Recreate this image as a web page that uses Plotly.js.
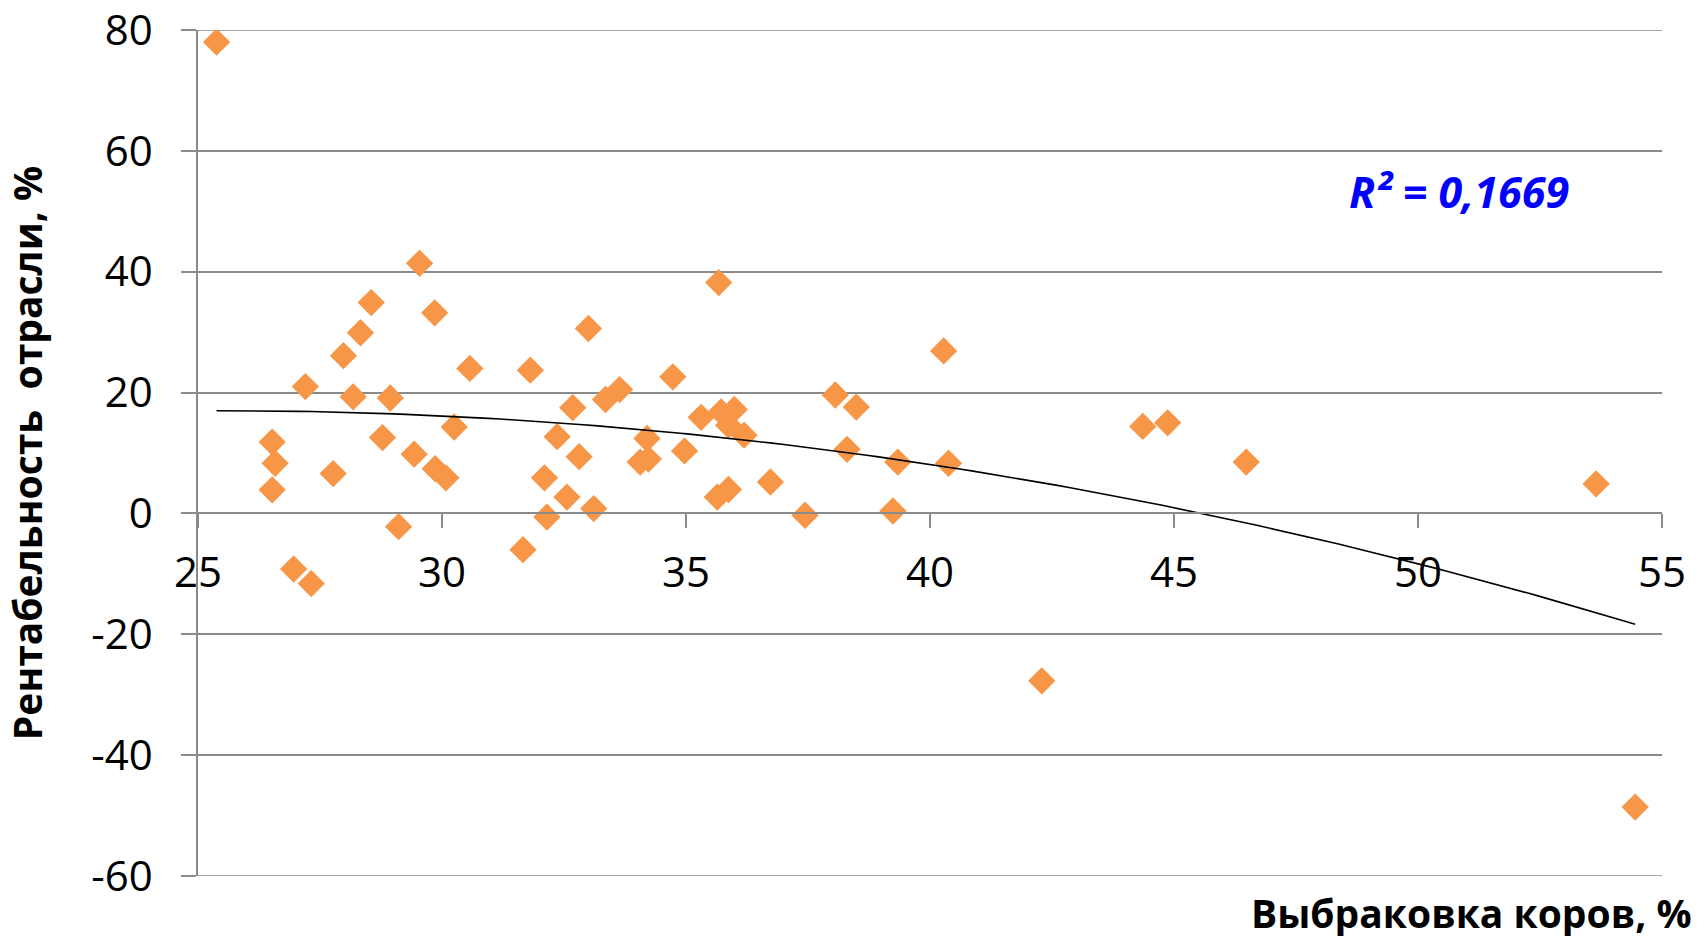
<!DOCTYPE html>
<html>
<head>
<meta charset="utf-8">
<script src="https://cdn.plot.ly/plotly-3.0.1.min.js"></script>
<style>
  html, body { margin: 0; padding: 0; background: #ffffff; }
  #chart { width: 1706px; height: 936px; }
</style>
</head>
<body>
<div id="chart"></div>
<script>
// Выбраковка коров, % (x) and Рентабельность отрасли, % (y)
const cullRate = [
  25.38, 26.52, 26.58, 26.52, 26.96, 27.20, 27.32, 27.77, 27.98, 28.18,
  28.33, 28.55, 28.78, 28.94, 29.11, 29.43, 29.54, 29.85, 29.86, 30.08,
  30.25, 30.57, 31.66, 31.81, 32.10, 32.15, 32.36, 32.56, 32.68, 32.81,
  33.00, 33.11, 33.35, 33.64, 34.06, 34.20, 34.23, 34.73, 34.97, 35.31,
  35.64, 35.67, 35.72, 35.87, 35.87, 35.99, 36.19, 36.73, 37.44, 38.06,
  38.30, 38.49, 39.24, 39.34, 40.28, 40.38, 42.29, 44.36, 44.87, 46.48,
  53.65, 54.45
];
const profitability = [
  78.0, 11.8, 8.3, 3.9, -9.2, 21.0, -11.6, 6.6, 26.1, 19.3,
  29.9, 34.9, 12.55, 19.1, -2.2, 9.8, 41.4, 33.2, 7.4, 5.9,
  14.3, 24.0, -6.0, 23.7, 5.9, -0.6, 12.7, 2.7, 17.5, 9.4,
  30.6, 0.8, 18.85, 20.5, 8.5, 12.4, 9.0, 22.6, 10.35, 15.9,
  2.7, 38.2, 16.8, 3.96, 14.6, 17.2, 12.95, 5.2, -0.3, 19.6,
  10.6, 17.6, 0.4, 8.5, 26.9, 8.3, -27.7, 14.4, 15.0, 8.5,
  4.9, -48.6
];
const yTickVals = [-60, -40, -20, 0, 20, 40, 60, 80];
const xTickVals = [25, 30, 35, 40, 45, 50, 55];
const r2Label = 'R\u00b2 = 0,1669';
const xTitle = 'Выбраковка коров, %';
const yTitle = 'Рентабельность\u00a0 отрасли, %';

// Quadratic least-squares trend line (as in the spreadsheet's polynomial trendline)
function polyFit2(xs, ys) {
  let s0 = 0, s1 = 0, s2 = 0, s3 = 0, s4 = 0, t0 = 0, t1 = 0, t2 = 0;
  for (let i = 0; i < xs.length; i++) {
    const x = xs[i], y = ys[i], x2 = x * x;
    s0 += 1; s1 += x; s2 += x2; s3 += x2 * x; s4 += x2 * x2;
    t0 += y; t1 += x * y; t2 += x2 * y;
  }
  const M = [[s0, s1, s2, t0], [s1, s2, s3, t1], [s2, s3, s4, t2]];
  for (let c = 0; c < 3; c++) {
    let p = c;
    for (let r = c + 1; r < 3; r++) if (Math.abs(M[r][c]) > Math.abs(M[p][c])) p = r;
    [M[c], M[p]] = [M[p], M[c]];
    for (let r = 0; r < 3; r++) {
      if (r === c) continue;
      const f = M[r][c] / M[c][c];
      for (let k = c; k < 4; k++) M[r][k] -= f * M[c][k];
    }
  }
  return [M[0][3] / M[0][0], M[1][3] / M[1][1], M[2][3] / M[2][2]];
}
const coef = polyFit2(cullRate, profitability);
const xMin = Math.min(...cullRate), xMax = Math.max(...cullRate);
const trendX = [], trendY = [];
for (let i = 0; i <= 120; i++) {
  const x = xMin + (xMax - xMin) * i / 120;
  trendX.push(x);
  trendY.push(coef[0] + coef[1] * x + coef[2] * x * x);
}

const gridCol = '#8a8a8a';
const traces = [
  {
    type: 'scatter', mode: 'markers',
    x: cullRate, y: profitability,
    marker: { symbol: 'diamond', size: 21, color: '#F79646', line: { width: 0 } },
    hoverinfo: 'x+y'
  },
  {
    type: 'scatter', mode: 'lines',
    x: trendX, y: trendY,
    line: { color: '#000000', width: 1.6 },
    hoverinfo: 'skip'
  }
];

// gridlines at the two ends of the value range (Plotly skips grid lines on the range edges)
const edgeGrid = [yTickVals[0], yTickVals[yTickVals.length - 1]].map(v => ({
  type: 'line', layer: 'below', xref: 'paper', yref: 'y',
  x0: 0, x1: 1, y0: v, y1: v,
  line: { color: gridCol, width: 1.5 }
}));

const layout = {
  width: 1706, height: 936,
  margin: { l: 198, r: 44, t: 30, b: 60, pad: 0 },
  paper_bgcolor: '#ffffff', plot_bgcolor: '#ffffff',
  showlegend: false,
  font: { family: 'Open Sans, sans-serif', color: '#000000' },
  xaxis: {
    range: [25, 55], anchor: 'free', position: 60 / 140,
    tickmode: 'array', tickvals: xTickVals, ticktext: xTickVals.map(String),
    showgrid: false, zeroline: false,
    showline: true, linecolor: gridCol, linewidth: 1.5,
    ticks: 'outside', ticklen: 14, tickcolor: gridCol, tickwidth: 1.5,
    tickfont: { size: 42, color: '#000000' },
    ticklabelstandoff: 8,
    ticklabeloverflow: 'allow'
  },
  yaxis: {
    range: [-60, 80],
    tickmode: 'array', tickvals: yTickVals, ticktext: yTickVals.map(String),
    showgrid: true, gridcolor: gridCol, gridwidth: 1.5,
    zeroline: false,
    showline: true, linecolor: gridCol, linewidth: 1.5,
    ticks: 'outside', ticklen: 15, tickcolor: gridCol, tickwidth: 1.5,
    tickfont: { size: 42, color: '#000000' },
    ticklabelstandoff: 20,
    ticklabeloverflow: 'allow',
    title: { text: yTitle, font: { size: 39, weight: 'bold', color: '#000000' }, standoff: 42 }
  },
  shapes: edgeGrid,
  annotations: [
    {
      xref: 'x', yref: 'y', x: 50.85, y: 53.2,
      text: r2Label, showarrow: false, xanchor: 'center', yanchor: 'middle',
      font: { family: 'Open Sans, sans-serif', size: 43, color: '#0000FF', weight: 'bold', style: 'italic' }
    },
    {
      xref: 'paper', yref: 'paper', x: 1.022, y: -0.043,
      text: xTitle, showarrow: false, xanchor: 'right', yanchor: 'middle',
      font: { family: 'Open Sans, sans-serif', size: 39, color: '#000000', weight: 'bold' }
    }
  ]
};

Plotly.newPlot('chart', traces, layout, { displayModeBar: false, staticPlot: false });
</script>
</body>
</html>
